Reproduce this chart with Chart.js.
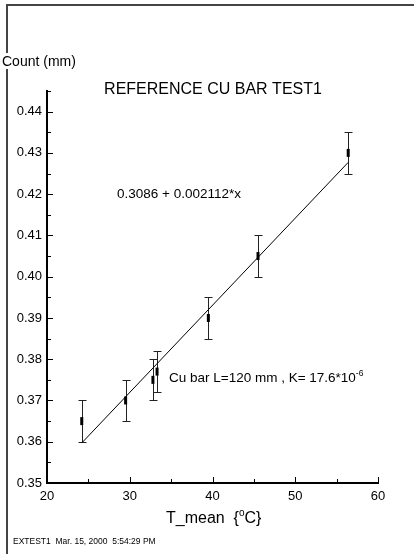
<!DOCTYPE html>
<html>
<head>
<meta charset="utf-8">
<script src="https://cdn.jsdelivr.net/npm/chart.js@4.4.0/dist/chart.umd.min.js"></script>
<style>
  html, body { margin: 0; padding: 0; background: #fff; }
  #wrap { position: relative; width: 414px; height: 554px; }
</style>
</head>
<body>
<div id="wrap"><canvas id="cuChart" width="414" height="554"></canvas></div>
<script>
// measured points (T_mean in degC, count in mm)
const tempMean = [24.2, 29.5, 32.8, 33.3, 39.5, 45.5, 56.4];
const countMm = [0.365, 0.370, 0.375, 0.377, 0.390, 0.405, 0.430];
const countErr = [0.005, 0.005, 0.005, 0.005, 0.005, 0.005, 0.005];

// fitted line at both ends
const fitX = [24.2, 56.4];
const fitY = [0.3597, 0.4277];

// axis ticks
const xTicks = [20, 30, 40, 50, 60];
const xMinor = [25, 35, 45, 55];
const yTicks = [0.35, 0.36, 0.37, 0.38, 0.39, 0.40, 0.41, 0.42, 0.43, 0.44];
const yMinor = [0.355, 0.365, 0.375, 0.385, 0.395, 0.405, 0.415, 0.425, 0.435, 0.445];

const FONT = '"Liberation Sans", Arial, sans-serif';

// draws a line of text where some parts are superscript
function drawRich(ctx, parts, x, y) {
    parts.forEach(p => {
        ctx.font = p.size + 'px ' + FONT;
        ctx.fillText(p.text, x, y - (p.up || 0));
        x += ctx.measureText(p.text).width;
    });
}

// error bars under the markers
const errorBars = {
    id: 'errorBars',
    beforeDatasetsDraw(chart) {
        const ctx = chart.ctx;
        const xs = chart.scales.x, ys = chart.scales.y;
        ctx.save();
        ctx.strokeStyle = '#222';
        ctx.lineWidth = 1;
        tempMean.forEach((t, i) => {
            const x = Math.round(xs.getPixelForValue(t)) + 0.5;
            const top = Math.round(ys.getPixelForValue(countMm[i] + countErr[i])) + 0.5;
            const bot = Math.round(ys.getPixelForValue(countMm[i] - countErr[i])) + 0.5;
            ctx.beginPath();
            ctx.moveTo(x, top); ctx.lineTo(x, bot);
            ctx.moveTo(x - 4, top); ctx.lineTo(x + 4, top);
            ctx.moveTo(x - 4, bot); ctx.lineTo(x + 4, bot);
            ctx.stroke();
        });
        ctx.restore();
    }
};

// inward tick marks, page frame and the text on the sheet
const sheet = {
    id: 'sheet',
    beforeDraw(chart) {
        const ctx = chart.ctx;
        ctx.save();
        ctx.strokeStyle = '#444';
        ctx.lineWidth = 2;
        ctx.beginPath();
        ctx.moveTo(7, 554); ctx.lineTo(7, 5); ctx.lineTo(414, 5);
        ctx.stroke();
        ctx.restore();
    },
    afterDraw(chart) {
        const ctx = chart.ctx;
        const xs = chart.scales.x, ys = chart.scales.y;
        const area = chart.chartArea;
        ctx.save();
        ctx.strokeStyle = '#000';
        ctx.lineWidth = 1;
        ctx.beginPath();
        xTicks.concat(xMinor).forEach(v => {
            const len = xTicks.includes(v) ? 6 : 4;
            const x = Math.round(xs.getPixelForValue(v)) + 0.5;
            ctx.moveTo(x, area.bottom); ctx.lineTo(x, area.bottom - len);
        });
        yTicks.concat(yMinor).forEach(v => {
            const len = yTicks.includes(v) ? 6 : 4;
            const y = Math.round(ys.getPixelForValue(v)) + 0.5;
            ctx.moveTo(area.left, y); ctx.lineTo(area.left + len, y);
        });
        ctx.stroke();

        ctx.fillStyle = '#000';
        ctx.textBaseline = 'alphabetic';

        // y axis name, sits over the frame line
        ctx.font = '14px ' + FONT;
        const yName = 'Count (mm)';
        ctx.fillStyle = '#fff';
        ctx.fillRect(1, 53, ctx.measureText(yName).width + 2, 16);
        ctx.fillStyle = '#000';
        ctx.fillText(yName, 2, 66);

        ctx.font = '16px ' + FONT;
        ctx.textAlign = 'center';
        ctx.fillText('REFERENCE CU BAR TEST1', 213, 94);
        ctx.textAlign = 'left';

        ctx.font = '13.5px ' + FONT;
        ctx.fillText('0.3086 + 0.002112*x', 117, 198);

        drawRich(ctx, [
            { text: 'Cu bar L=120 mm , K= 17.6*10', size: 13.5 },
            { text: '-6', size: 8.5, up: 6 }
        ], 169, 382);

        drawRich(ctx, [
            { text: 'T_mean  {', size: 16 },
            { text: 'o', size: 10, up: 7 },
            { text: 'C}', size: 16 }
        ], 166, 523);

        ctx.font = '8.5px ' + FONT;
        ctx.fillText('EXTEST1  Mar. 15, 2000  5:54:29 PM', 13, 544);
        ctx.restore();
    }
};

const tickFont = { family: FONT, size: 13 };

new Chart(document.getElementById('cuChart'), {
    type: 'scatter',
    data: {
        datasets: [{
            label: 'fit',
            data: fitX.map((x, i) => ({ x: x, y: fitY[i] })),
            showLine: true,
            borderColor: '#000',
            borderWidth: 1,
            pointRadius: 0
        }, {
            label: 'Count',
            data: tempMean.map((t, i) => ({ x: t, y: countMm[i] })),
            pointStyle: 'line',
            rotation: 90,
            pointRadius: 4,
            borderWidth: 3,
            borderColor: '#000',
            backgroundColor: '#000'
        }]
    },
    options: {
        responsive: false,
        animation: false,
        devicePixelRatio: 1,
        layout: { padding: { left: 0, top: 91, right: 36, bottom: 0 } },
        plugins: {
            legend: { display: false },
            tooltip: { enabled: false }
        },
        scales: {
            x: {
                type: 'linear',
                min: 20,
                max: 60,
                afterBuildTicks: s => { s.ticks = xTicks.map(v => ({ value: v })); },
                afterFit: s => { s.height = 71; },
                grid: { display: false, drawTicks: false },
                border: { display: true, color: '#000', width: 2 },
                ticks: { font: tickFont, color: '#000', padding: 6, maxRotation: 0 }
            },
            y: {
                type: 'linear',
                min: 0.35,
                max: 0.445,
                afterBuildTicks: s => { s.ticks = yTicks.map(v => ({ value: v })); },
                afterFit: s => { s.width = 47; },
                grid: { display: false, drawTicks: false },
                border: { display: true, color: '#000', width: 2 },
                ticks: {
                    font: tickFont,
                    color: '#000',
                    padding: 5,
                    callback: v => v.toFixed(2)
                }
            }
        }
    },
    plugins: [errorBars, sheet]
});
</script>
</body>
</html>
